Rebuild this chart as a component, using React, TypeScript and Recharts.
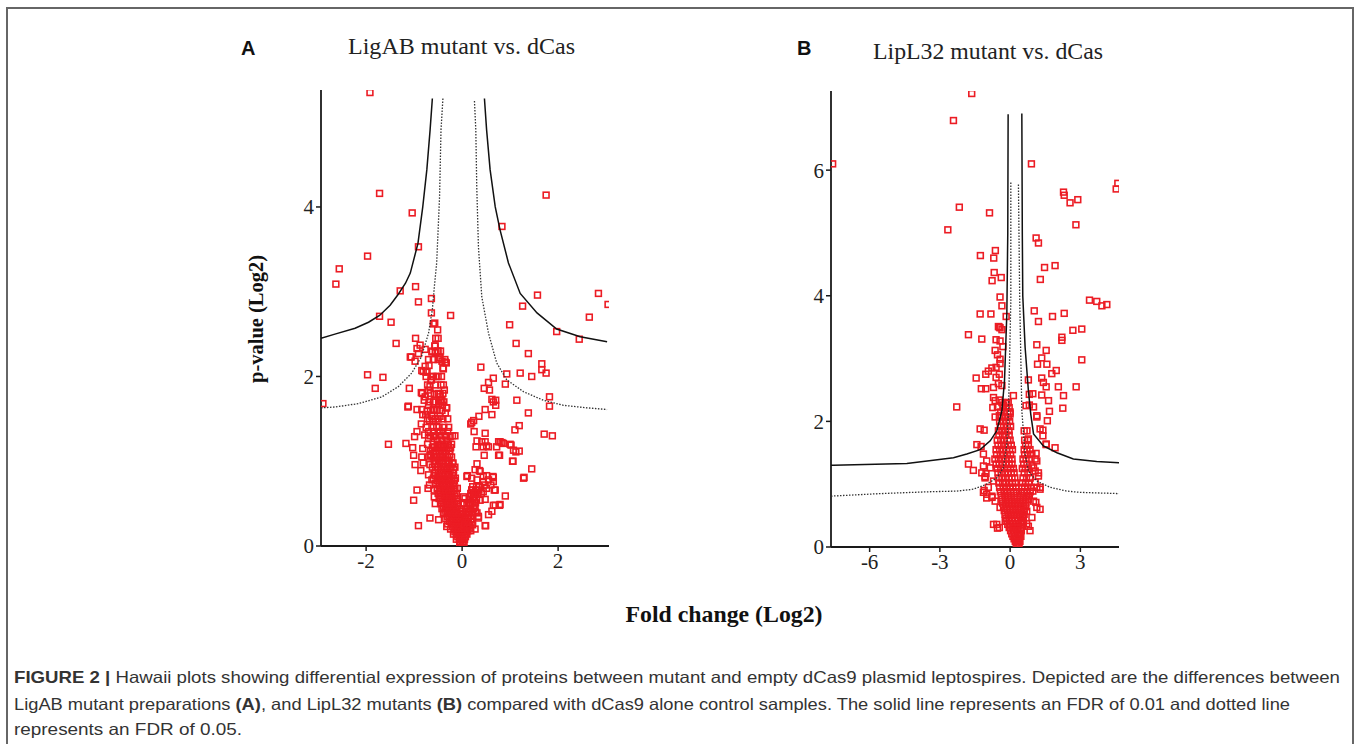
import React from "react";
import { ScatterChart, Scatter, XAxis, YAxis } from "recharts";

type P = [number, number];

// ---------- Panel A: LigAB mutant vs. dCas ----------
const ticksAX = [-2, 0, 2];
const ticksAY = [0, 2, 4];

const solidLeftA: P[] = [[-2.94,2.45],[-2.65,2.50],[-2.23,2.57],[-1.95,2.64],[-1.72,2.72],[-1.5,2.84],[-1.33,2.97],[-1.18,3.1],[-1.08,3.22],[-0.92,3.57],[-0.82,4.0],[-0.735,4.44],[-0.667,4.91],[-0.62,5.28]];
const solidRightA: P[] = [[0.465,5.28],[0.51,4.91],[0.583,4.44],[0.69,4.0],[0.79,3.73],[0.965,3.34],[1.21,2.98],[1.56,2.75],[1.97,2.56],[2.46,2.47],[3.02,2.41]];
const dotLeftA: P[] = [[-2.94,1.63],[-2.65,1.64],[-2.16,1.68],[-1.67,1.76],[-1.33,1.88],[-1.05,2.04],[-0.85,2.23],[-0.70,2.51],[-0.62,2.79],[-0.58,3.05],[-0.53,3.34],[-0.47,4.12],[-0.44,4.91],[-0.40,5.28]];
const dotRightA: P[] = [[0.257,5.25],[0.285,4.91],[0.305,4.24],[0.34,3.53],[0.41,2.94],[0.55,2.51],[0.72,2.16],[0.93,1.96],[1.28,1.82],[1.69,1.72],[2.11,1.66],[2.6,1.63],[3.02,1.61]];

const pointsA: P[] = [
[-1.92,5.35],[-1.72,4.16],[-1.04,3.93],[-0.91,3.53],[-1.97,3.42],[-2.56,3.27],[-2.63,3.09],[-1.29,3.01],[-0.97,3.06],[-0.91,2.88],[-0.64,2.92],[-0.64,2.75],[-1.72,2.71],[-1.48,2.64],[-0.57,2.63],[-0.24,2.72],[0.83,3.77],[1.75,4.14],[1.57,2.96],[1.26,2.83],[0.99,2.61],[2.84,2.98],[3.04,2.85],[2.65,2.70],[1.97,2.53],[2.44,2.44],
[-1.375,2.39],[-0.97,2.45],[-0.875,2.37],[-0.6,2.62],[-0.51,2.55],[-0.57,2.36],[-0.63,2.29],[-0.56,2.28],[-0.94,2.33],[-1.08,2.23],[-0.91,2.27],[-0.98,2.18],[-0.77,2.12],[-0.69,2.13],[-0.81,2.06],[-0.73,2.06],[-0.47,2.22],[-0.42,2.18],[-0.33,2.16],[-0.40,2.10],[-0.64,1.96],[-0.67,1.88],[-0.70,1.84],[-0.85,1.81],[-1.10,1.86],[-1.97,2.02],[-1.65,1.99],[-1.81,1.86],[-2.90,1.68],[-0.69,1.70],[-0.77,1.76],[-0.46,1.79],[-0.42,1.72],[-0.49,1.68],[-0.32,1.63],[-1.13,1.64],[-0.94,1.61],[-0.73,1.59],[-0.82,1.55],[-0.6,1.61],[-0.35,1.57],[-0.46,1.53],[-0.68,1.48],[-0.6,1.47],[-0.53,1.41],[-0.85,1.44],[-0.94,1.35],[-0.99,1.29],[-0.78,1.31],[-0.70,1.27],[-0.6,1.29],[-0.46,1.35],[-0.35,1.30],[-0.25,1.29],[-0.15,1.30],[-1.535,1.20],[-1.17,1.21],[-1.03,1.16],[-0.82,1.15],[-0.58,1.17],[-0.49,1.19],[-0.39,1.17],[-0.285,1.20],[-1.01,1.07],[-0.84,1.05],[-0.67,1.07],[-0.98,0.96],[-0.81,0.98],[-0.67,0.96],[-0.39,0.94],[-0.19,0.98],[-0.86,0.89],[-0.70,0.84],[-0.63,0.78],[-0.68,0.72],[-0.71,0.68],[-0.94,0.66],[-1.01,0.54],[-0.58,0.66],[-0.58,0.58],[-0.56,0.50],[-0.67,0.33],[-0.49,0.31],[-0.91,0.24],[-0.39,0.39],[-0.32,0.23],
[-0.1,0.68],[0.03,0.58],[0.03,0.5],[0.06,0.33],[0.13,0.27],[0.27,0.20],[0.34,0.35],[0.31,0.39],[0.55,0.37],[0.62,0.41],[0.48,0.24],[0.69,0.48],[0.79,0.49],[0.90,0.59],[0.69,0.66],[0.51,0.68],[0.44,0.64],[0.31,0.61],[0.2,0.66],[0.24,0.58],[0.375,0.54],[0.48,0.55],[0.17,0.5],[0.27,0.46],[0.1,0.82],[0.2,0.80],[0.31,0.78],[0.44,0.82],[0.55,0.78],[0.64,0.82],[0.65,0.76],[0.375,0.88],[0.27,0.9],[0.31,0.97],[0.44,0.76],[0.46,0.72],[0.6,0.72],[1.06,1.0],[1.28,0.80],[1.45,0.91],[0.29,1.17],[0.44,1.17],[0.55,1.17],[0.72,1.17],[0.79,1.23],[0.86,1.21],[0.78,1.07],[0.46,1.07],[0.31,1.24],[0.48,1.23],[1.02,1.19],[1.07,1.13],[1.12,1.11],[1.19,1.12],[0.25,1.35],[0.48,1.33],[0.18,1.44],[0.24,1.48],[0.35,1.53],[0.48,1.61],[0.62,1.55],[0.62,1.73],[0.70,1.72],[0.70,1.66],[0.57,1.84],[0.46,1.86],[0.55,1.93],[0.65,1.98],[0.39,2.11],[0.93,2.03],[0.9,1.91],[1.21,2.04],[1.45,2.0],[1.38,2.27],[1.125,2.39],[1.66,2.15],[1.66,2.08],[1.75,2.04],[1.14,1.72],[1.82,1.76],[1.82,1.65],[1.38,1.57],[1.19,1.42],[1.10,1.37],[1.71,1.32],[1.88,1.30],
[-0.77,2.32],[-0.56,2.36],[-0.5,2.30],[-1.06,2.23],[-0.46,2.22],[-0.35,2.17],[-0.39,2.09],[-0.75,2.05],[-0.84,2.07],[-0.63,2.0],[-0.54,2.0],[-0.65,1.96],[-0.39,1.90],[-0.37,1.84],[-0.83,1.80],[-0.58,1.79],[-0.46,1.76],[-0.41,1.66],[-0.33,1.63],[-0.79,1.72],[-0.70,1.66],[-0.84,1.61],[-0.58,1.61],[-0.76,1.55],[-0.63,1.53],[-1.12,1.65],
[0.65,1.70],[0.2,1.46],[0.41,1.23],[0.51,1.18],[0.76,1.23],[0.83,1.22],[1.0,1.2],[1.05,1.0],[1.29,0.81],[0.76,1.07],[0.36,0.89],[0.11,0.83],[0.51,0.83],[0.65,0.81],[0.24,0.62],[0.67,0.66],[0.65,0.48],[0.78,0.48],[0.49,0.24],[0.06,0.56],[0.13,0.41],[0.34,0.33],[-0.04,0.31]
];

// dense core of panel A, read row by row: [p-value, fold changes]
const denseA: [number, number[]][] = [
[2.45,[-0.55,-0.5]],
[2.3,[-0.62,-0.52,-0.45]],
[2.2,[-0.7,-0.6,-0.5,-0.36]],
[2.0,[-0.75,-0.6,-0.5,-0.43]],
[1.9,[-0.72,-0.56,-0.44]],
[1.8,[-0.66,-0.5,-0.4]],
[1.7,[-0.6,-0.55,-0.45,-0.38]],
[1.6,[-0.66,-0.52,-0.42]],
[1.5,[-0.72,-0.62,-0.55,-0.5,-0.4,-0.3]],
[1.4,[-0.75,-0.6,-0.48,-0.38,-0.28]],
[1.35,[-0.7,-0.6,-0.5,-0.4,-0.3]],
[1.3,[-0.66,-0.55,-0.45,-0.35,-0.2]],
[1.25,[-0.52,-0.42,-0.32]],
[1.2,[-0.72,-0.6,-0.5,-0.44,-0.36,-0.3,-0.22]],
[1.16,[-0.62,-0.52,-0.44,-0.37,-0.29,-0.24]],
[1.12,[-0.66,-0.55,-0.48,-0.4,-0.33,-0.26]],
[1.08,[-0.65,-0.56,-0.48,-0.41,-0.34,-0.26]],
[1.05,[-0.7,-0.6,-0.52,-0.45,-0.38,-0.3,-0.22]],
[1.0,[-0.55,-0.47,-0.4,-0.34,-0.27]],
[0.97,[-0.58,-0.5,-0.42,-0.35,-0.28,-0.2]],
[0.93,[-0.62,-0.52,-0.44,-0.37,-0.3,-0.23,-0.15]],
[0.9,[-0.55,-0.46,-0.39,-0.32,-0.25,-0.18]],
[0.86,[-0.58,-0.5,-0.42,-0.35,-0.28,-0.2]],
[0.83,[-0.56,-0.48,-0.41,-0.34,-0.26,-0.18]],
[0.8,[-0.6,-0.52,-0.45,-0.38,-0.3,-0.22,-0.14]],
[0.77,[-0.51,-0.43,-0.36,-0.29,-0.22,-0.16]],
[0.74,[-0.55,-0.47,-0.4,-0.33,-0.26,-0.18]],
[0.71,[-0.48,-0.4,-0.32,-0.25,-0.18]],
[0.68,[-0.52,-0.44,-0.36,-0.29,-0.22,-0.15]],
[0.65,[-0.46,-0.38,-0.31,-0.24,-0.17]],
[0.62,[-0.5,-0.42,-0.35,-0.28,-0.21,-0.12]],
[0.59,[-0.44,-0.37,-0.3,-0.23,-0.15]],
[0.56,[-0.48,-0.4,-0.33,-0.26,-0.19,-0.11]],
[0.53,[-0.42,-0.34,-0.27,-0.2,-0.12]],
[0.5,[-0.45,-0.38,-0.3,-0.23,-0.16,-0.08]],
[0.47,[-0.39,-0.32,-0.24,-0.17,-0.1]],
[0.44,[-0.42,-0.35,-0.28,-0.2,-0.13,-0.06]],
[0.41,[-0.34,-0.26,-0.19,-0.12,-0.04]],
[0.38,[-0.38,-0.3,-0.23,-0.16,-0.09,-0.02]],
[0.35,[-0.3,-0.22,-0.15,-0.08,0.0]],
[0.32,[-0.34,-0.26,-0.19,-0.12,-0.05,0.02]],
[0.29,[-0.26,-0.18,-0.11,-0.04,0.03]],
[0.26,[-0.3,-0.22,-0.15,-0.08,-0.02,0.05]],
[0.23,[-0.2,-0.13,-0.06,0.0,0.06]],
[0.2,[-0.24,-0.17,-0.1,-0.04,0.02,0.08]],
[0.17,[-0.15,-0.09,-0.02,0.03,0.08]],
[0.14,[-0.18,-0.12,-0.06,0,0.05,0.1]],
[0.11,[-0.09,-0.03,0.02,0.07]],
[0.08,[-0.12,-0.06,0,0.05]],
[0.05,[-0.03,0.02]],
[0.03,[-0.05,0,0.04]],
[0.7,[0.22,0.3,0.36]],
[0.66,[0.2,0.28,0.35]],
[0.62,[0.18,0.26,0.33,0.4]],
[0.58,[0.18,0.26]],
[0.55,[0.15,0.22,0.3]],
[0.51,[0.13,0.21,0.28]],
[0.48,[0.1,0.18,0.25]],
[0.44,[0.1,0.17,0.24]],
[0.4,[0.08,0.15,0.22,0.28]],
[0.36,[0.07,0.14,0.2]],
[0.32,[0.06,0.12,0.18]],
[0.28,[0.08,0.13,0.19]],
[0.25,[0.05,0.1,0.16,0.22]],
[0.21,[0.1,0.15]],
[0.18,[0.12,0.18]]
];

// ---------- Panel B: LipL32 mutant vs. dCas ----------
const ticksBX = [-6, -3, 0, 3];
const ticksBY = [0, 2, 4, 6];

const solidLeftB: P[] = [[-7.65,1.30],[-7.55,1.30],[-4.41,1.33],[-2.42,1.42],[-1.85,1.48],[-1.28,1.55],[-0.85,1.69],[-0.57,1.85],[-0.35,2.17],[-0.24,2.65],[-0.14,3.72],[-0.1,5.0],[-0.085,6.89]];
const solidRightB: P[] = [[0.5,6.9],[0.52,5.0],[0.54,4.0],[0.64,3.18],[0.78,2.49],[0.88,2.12],[1.0,1.80],[1.42,1.61],[2.0,1.50],[2.7,1.40],[3.7,1.36],[4.65,1.34]];
const dotLeftB: P[] = [[-7.65,0.81],[-5.56,0.85],[-3.42,0.88],[-2.28,0.89],[-1.57,0.92],[-1.0,1.0],[-0.57,1.1],[-0.29,1.26],[-0.14,1.64],[-0.07,2.17],[0.03,3.92],[0.03,5.81]];
const dotRightB: P[] = [[0.355,5.77],[0.41,3.92],[0.5,2.17],[0.64,1.48],[0.78,1.21],[1.14,1.05],[1.71,0.95],[2.42,0.89],[2.99,0.87],[4.65,0.85]];

const pointsB: P[] = [
[-1.64,7.22],[-2.42,6.79],[-7.58,6.10],[0.91,6.10],[-2.17,5.41],[-0.88,5.32],[-2.66,5.05],[4.6,5.79],[4.53,5.70],[2.28,5.65],[2.31,5.60],[2.56,5.48],[2.89,5.53],[2.81,5.13],[1.11,4.92],[1.21,4.84],[-1.27,4.64],[-0.63,4.72],[-0.70,4.60],[-0.68,4.37],[-0.77,4.24],[-0.38,4.29],[1.47,4.45],[1.92,4.48],[1.29,4.26],[3.39,3.93],[3.7,3.91],[3.92,3.84],[4.13,3.86],[-0.43,3.98],[-0.35,3.84],
[-1.28,3.71],[-0.82,3.71],[-0.17,3.67],[1.03,3.76],[1.21,3.59],[1.81,3.67],[2.31,3.72],[2.68,3.45],[3.06,3.47],[3.06,2.98],[2.21,3.34],[2.21,3.29],[-1.78,3.38],[-1.21,3.31],[-0.5,3.51],[-0.43,3.49],[1.14,3.22],[1.54,3.13],[1.35,3.01],[1.17,2.91],[1.57,2.91],[1.97,2.81],[1.78,2.76],[1.35,2.69],[0.78,2.66],[1.42,2.62],[1.54,2.55],[2.06,2.55],[2.82,2.55],[0.97,2.44],[1.35,2.42],[2.28,2.41],[1.64,2.33],[2.25,2.21],[1.68,2.16],[1.14,2.07],[1.59,2.01],[1.40,1.86],[1.54,1.63],[1.92,1.58],[0.82,2.26],[1.0,2.23],[-2.28,2.23],[-1.45,2.69],[-1.04,2.75],[-0.93,2.80],[-1.23,2.52],[-1.04,2.52],[-1.28,1.88],[-1.11,1.86],[-1.42,1.63],[-1.24,1.60],[-1.78,1.32],[-1.57,1.22],[-1.14,1.29],[-1.03,1.17],[-1.07,1.12],[-1.11,0.90],[-1.0,0.84],[-0.77,0.79],[-0.71,0.36],[-0.54,0.30],[1.14,0.95],[1.28,0.92],[1.28,0.60],[1.10,0.71],[1.07,1.21],[1.21,1.13],[1.11,1.49],[1.07,1.40],[0.93,1.29],[0.71,0.37],[0.85,0.26],[0.43,0.20],
[-0.46,3.50],[-0.35,3.46],[-0.6,3.30],[-0.43,3.28],[-0.31,3.19],[-0.64,3.13],[-0.54,3.06],[-0.43,2.99],[-0.6,2.86],[-0.43,2.92],[-0.78,2.85],[-0.71,2.54],[-0.6,2.70],[-0.46,2.75],[-0.5,2.60],[-0.35,2.57],[-0.71,2.38],[-0.64,2.33],[-0.46,2.34],[-0.74,2.22],[-0.54,2.23],[-0.29,2.26],[-0.14,2.29],[-0.64,2.07],[-0.46,2.09],[0.0,2.12],[0.14,2.41],[0.82,2.43],[0.68,2.25],[1.14,2.09],
[-1.14,1.48],[-1.0,1.37],[-0.85,1.26],[-1.21,1.18],[-1.07,1.10],[-0.71,1.05],[-0.93,0.95],[-1.14,0.87],[-1.0,0.78],[-0.78,0.81],[-0.64,0.73],[-0.43,0.63],[-0.57,0.36],[-0.46,0.31],[-0.21,0.41],[1.28,1.88],[1.40,1.77],[1.54,1.64],[0.78,1.72],[0.93,1.48],[1.14,1.37],[1.0,1.26],[1.21,1.18],[0.85,1.10],[1.07,1.03],[1.28,0.95],[0.97,0.89],[0.78,0.81],[1.0,0.73],[1.14,0.63],[0.71,0.57],[0.93,0.47],[0.57,0.39],[0.78,0.33]
];

const denseB: [number, number[]][] = [
[2.3,[-0.35,-0.2,-0.08]],
[2.22,[-0.3,-0.15,-0.04]],
[2.15,[-0.4,-0.25,-0.1,0.0]],
[2.07,[-0.38,-0.22,-0.08]],
[2.0,[-0.45,-0.3,-0.15,-0.02]],
[1.92,[-0.42,-0.28,-0.12,0.02]],
[1.85,[-0.5,-0.35,-0.2,-0.05,0.6,0.72]],
[1.78,[-0.48,-0.32,-0.18,-0.04]],
[1.7,[-0.55,-0.4,-0.25,-0.1,0.0,0.62,0.75]],
[1.62,[-0.52,-0.38,-0.22,-0.08,0.05,0.66,0.78]],
[1.55,[-0.6,-0.45,-0.3,-0.15,-0.02,0.1,0.6,0.72,0.85]],
[1.47,[-0.58,-0.42,-0.28,-0.12,0.02,0.62,0.75]],
[1.4,[-0.65,-0.5,-0.35,-0.2,-0.05,0.08,0.55,0.68,0.82]],
[1.32,[-0.6,-0.47,-0.32,-0.18,-0.04,0.08,0.58,0.72]],
[1.25,[-0.55,-0.4,-0.25,-0.1,0.02,0.14,0.52,0.65,0.78]],
[1.18,[-0.52,-0.38,-0.22,-0.08,0.05,0.17,0.6,0.76]],
[1.1,[-0.5,-0.35,-0.2,-0.05,0.08,0.2,0.55,0.7,0.85]],
[1.02,[-0.48,-0.32,-0.18,-0.02,0.1,0.22,0.52,0.66,0.8]],
[0.95,[-0.45,-0.3,-0.15,0.0,0.12,0.25,0.5,0.62,0.75,0.9]],
[0.88,[-0.42,-0.26,-0.12,0.02,0.15,0.28,0.48,0.6,0.72,0.86]],
[0.82,[-0.38,-0.22,-0.08,0.05,0.18,0.45,0.58,0.7,0.82]],
[0.76,[-0.35,-0.2,-0.06,0.06,0.19,0.31,0.43,0.55,0.66,0.78]],
[0.7,[-0.32,-0.18,-0.05,0.08,0.2,0.32,0.44,0.56,0.68]],
[0.64,[-0.28,-0.15,-0.02,0.1,0.22,0.34,0.46,0.58,0.66]],
[0.58,[-0.25,-0.12,0.0,0.12,0.24,0.36,0.48,0.6]],
[0.52,[-0.22,-0.08,0.05,0.17,0.29,0.41,0.52,0.6]],
[0.46,[-0.18,-0.05,0.08,0.2,0.32,0.44,0.56]],
[0.41,[-0.14,-0.02,0.1,0.22,0.34,0.46,0.54]],
[0.36,[-0.1,0.02,0.14,0.26,0.38,0.5]],
[0.31,[-0.04,0.08,0.2,0.32,0.44]],
[0.26,[0.02,0.14,0.26,0.38,0.48]],
[0.21,[0.07,0.19,0.31,0.42]],
[0.17,[0.12,0.24,0.36,0.46]],
[0.13,[0.17,0.28,0.38]],
[0.09,[0.22,0.32,0.42]],
[0.06,[0.26,0.36]],
[0.03,[0.3,0.38]]
];

// ---------- helpers ----------
const toPts = (arr: P[]) => arr.map(([x, y]) => ({ x, y }));
const fromRows = (rows: [number, number[]][]) =>
  rows.flatMap(([y, xs]) => xs.map((x) => ({ x, y })));

const RED = "#ec1c24";
const SERIF = "'Liberation Serif', 'Times New Roman', serif";
const SANS = "'Liberation Sans', Arial, Helvetica, sans-serif";

const Square = (props: any) => {
  const { cx, cy } = props;
  if (cx == null || cy == null) return <g />;
  return (
    <rect x={cx - 2.9} y={cy - 2.9} width={5.8} height={5.8} fill="none" stroke={RED} strokeWidth={1.6} />
  );
};
const Empty = () => <g />;

const tickStyle = { fontFamily: SERIF, fontSize: 21, fill: "#222" };
const axisLine = { stroke: "#1a1a1a", strokeWidth: 1.8 };
const tickLine = { stroke: "#1a1a1a", strokeWidth: 1.5 };

const solidLine = { stroke: "#111", strokeWidth: 1.5 };
const dotLine = { stroke: "#333", strokeWidth: 1.3, strokeDasharray: "1.5 1.5" };

function Panel(props: {
  xDomain: [number, number];
  yDomain: [number, number];
  xTicks: number[];
  yTicks: number[];
  points: { x: number; y: number }[];
  solidL: P[];
  solidR: P[];
  dotL: P[];
  dotR: P[];
}) {
  const { xDomain, yDomain, xTicks, yTicks, points, solidL, solidR, dotL, dotR } = props;
  return (
    <ScatterChart width={380} height={510} margin={{ top: 10, right: 21, bottom: 10, left: 0 }}>
      <XAxis
        type="number"
        dataKey="x"
        domain={xDomain}
        ticks={xTicks}
        allowDataOverflow
        axisLine={axisLine}
        tickLine={tickLine}
        tickSize={5}
        tickMargin={2}
        tick={tickStyle}
        height={34}
        interval={0}
      />
      <YAxis
        type="number"
        dataKey="y"
        domain={yDomain}
        ticks={yTicks}
        allowDataOverflow
        axisLine={axisLine}
        tickLine={tickLine}
        tickSize={5}
        tickMargin={2}
        tick={tickStyle}
        width={71}
        interval={0}
      />
      <Scatter data={points} shape={Square} isAnimationActive={false} />
      <Scatter data={toPts(dotL)} line={dotLine} shape={Empty} isAnimationActive={false} />
      <Scatter data={toPts(dotR)} line={dotLine} shape={Empty} isAnimationActive={false} />
      <Scatter data={toPts(solidL)} line={solidLine} shape={Empty} isAnimationActive={false} />
      <Scatter data={toPts(solidR)} line={solidLine} shape={Empty} isAnimationActive={false} />
    </ScatterChart>
  );
}

export default function App() {
  const ptsA = [...toPts(pointsA), ...fromRows(denseA)];
  const ptsB = [...toPts(pointsB), ...fromRows(denseB)];
  return (
    <div style={{ position: "absolute", left: 0, top: 0, width: 1357, height: 744, overflow: "hidden", background: "#fff" }}>
      <div style={{ position: "absolute", left: 6, top: 7, width: 1348, height: 800, border: "2px solid #666", boxSizing: "border-box" }} />
      <div style={{ position: "absolute", left: 250, top: 80 }}>
        <Panel xDomain={[-2.94, 3.06]} yDomain={[0, 5.38]} xTicks={ticksAX} yTicks={ticksAY} points={ptsA}
          solidL={solidLeftA} solidR={solidRightA} dotL={dotLeftA} dotR={dotRightA} />
      </div>
      <div style={{ position: "absolute", left: 760, top: 81 }}>
        <Panel xDomain={[-7.65, 4.65]} yDomain={[0, 7.26]} xTicks={ticksBX} yTicks={ticksBY} points={ptsB}
          solidL={solidLeftB} solidR={solidRightB} dotL={dotLeftB} dotR={dotRightB} />
      </div>
      <svg width={1357} height={744} style={{ position: "absolute", left: 0, top: 0, pointerEvents: "none" }}>
        <text x={241} y={55} fontFamily={SANS} fontWeight="bold" fontSize={20} fill="#111">A</text>
        <text x={461.5} y={54} fontFamily={SERIF} fontSize={23} fill="#222" textAnchor="middle" textLength={227} lengthAdjust="spacingAndGlyphs">LigAB mutant vs. dCas</text>
        <text x={797} y={55} fontFamily={SANS} fontWeight="bold" fontSize={20} fill="#111">B</text>
        <text x={988} y={59} fontFamily={SERIF} fontSize={23} fill="#222" textAnchor="middle" textLength={230} lengthAdjust="spacingAndGlyphs">LipL32 mutant vs. dCas</text>
        <text transform="translate(263,319) rotate(-90)" fontFamily={SERIF} fontWeight="bold" fontSize={21} fill="#111" textAnchor="middle" textLength={128} lengthAdjust="spacingAndGlyphs">p-value (Log2)</text>
        <text x={724} y={622} fontFamily={SERIF} fontWeight="bold" fontSize={23} fill="#111" textAnchor="middle" textLength={197} lengthAdjust="spacingAndGlyphs">Fold change (Log2)</text>
        <text x={14} y={683} fontFamily={SANS} fontSize={16.5} fill="#333" textLength={1326} lengthAdjust="spacingAndGlyphs">
          <tspan fontWeight="bold">FIGURE 2 | </tspan>Hawaii plots showing differential expression of proteins between mutant and empty dCas9 plasmid leptospires. Depicted are the differences between
        </text>
        <text x={14} y={709.5} fontFamily={SANS} fontSize={16.5} fill="#333" textLength={1276} lengthAdjust="spacingAndGlyphs">
          LigAB mutant preparations <tspan fontWeight="bold">(A)</tspan>, and LipL32 mutants <tspan fontWeight="bold">(B)</tspan> compared with dCas9 alone control samples. The solid line represents an FDR of 0.01 and dotted line
        </text>
        <text x={14} y={734.5} fontFamily={SANS} fontSize={16.5} fill="#333" textLength={228} lengthAdjust="spacingAndGlyphs">represents an FDR of 0.05.</text>
      </svg>
    </div>
  );
}
